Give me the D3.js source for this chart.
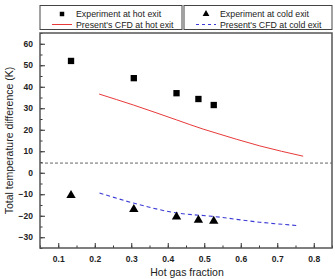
<!DOCTYPE html>
<html>
<head>
<meta charset="utf-8">
<script src="https://cdn.jsdelivr.net/npm/d3@7"></script>
<style>
  body { margin: 0; background: #fff; }
  text { font-family: "Liberation Sans", Arial, sans-serif; }
</style>
</head>
<body>
<svg id="chart-svg" width="335" height="279"></svg>
<script>
// experiment points
const expX = [0.135, 0.307, 0.424, 0.484, 0.526];
const expHot = [52, 44, 37, 34.3, 31.5];
const expCold = [-10.5, -17, -20.5, -22, -22.5];

// CFD curves
const cfdX = [0.212, 0.306, 0.424, 0.497, 0.524, 0.652, 0.771];
const cfdHot = [36.6, 31.5, 24.6, 20.3, 18.9, 12.5, 7.7];
const cfdColdX = [0.213, 0.306, 0.424, 0.524, 0.652, 0.759];
const cfdCold = [-9.4, -14.1, -18.7, -20.3, -23.0, -24.6];

const refLine = 4.5;

const xTicks = [0.1, 0.2, 0.3, 0.4, 0.5, 0.6, 0.7, 0.8];
const yTicks = [-30, -20, -10, 0, 10, 20, 30, 40, 50, 60];

const legendItems = ["Experiment at hot exit", "Present's CFD at hot exit",
                     "Experiment at cold exit", "Present's CFD at cold exit"];

let svg = d3.select('#chart-svg');

let margin = {left: 40, right: 3, top: 33, bottom: 31};
let w = 335 - margin.left - margin.right;
let h = 279 - margin.top - margin.bottom;

let x = d3.scaleLinear().domain([0.05, 0.85]).range([0, w]);
let y = d3.scaleLinear().domain([-35, 65]).range([h, 0]);

let g = svg.append('g').attr('transform', `translate(${margin.left},${margin.top})`);

// minor ticks
let xAxisMinor = d3.axisBottom(x).tickValues(d3.range(0.05, 0.851, 0.05)).tickSize(-2.5).tickFormat('');
let yAxisMinor = d3.axisLeft(y).tickValues(d3.range(-35, 65.1, 5)).tickSize(-2.5).tickFormat('');
g.append('g').attr('transform', `translate(0,${h})`).call(xAxisMinor).call(a => a.select('.domain').remove());
g.append('g').call(yAxisMinor).call(a => a.select('.domain').remove());

// major ticks
let xAxis = d3.axisBottom(x).tickValues(xTicks).tickSize(-5).tickPadding(8).tickFormat(d3.format('.1f'));
let yAxis = d3.axisLeft(y).tickValues(yTicks).tickSize(-5).tickPadding(7);
let xg = g.append('g').attr('transform', `translate(0,${h})`).call(xAxis);
let yg = g.append('g').call(yAxis);
[xg, yg].forEach(a => {
    a.select('.domain').remove();
    a.selectAll('text').style('font-size', '8.5px').style('font-weight', 'bold').attr('fill', '#222');
});
g.selectAll('.tick line').attr('stroke', '#333');

// frame
g.append('rect').attr('width', w).attr('height', h)
    .attr('fill', 'none').attr('stroke', '#555').attr('stroke-width', 1.5);

// reference dashed line
g.append('line').attr('x1', 0).attr('x2', w)
    .attr('y1', y(refLine)).attr('y2', y(refLine))
    .attr('stroke', '#666').attr('stroke-width', 1).attr('stroke-dasharray', '3,2');

let line = d3.line().curve(d3.curveMonotoneX);

g.append('path')
    .attr('d', line(cfdX.map((v, i) => [x(v), y(cfdHot[i])])))
    .attr('fill', 'none').attr('stroke', '#e8393a').attr('stroke-width', 1);

g.append('path')
    .attr('d', line(cfdColdX.map((v, i) => [x(v), y(cfdCold[i])])))
    .attr('fill', 'none').attr('stroke', '#3a3ad6').attr('stroke-width', 1.1)
    .attr('stroke-dasharray', '4,3');

let square = d3.symbol().type(d3.symbolSquare).size(40);
let triangle = d3.symbol().type(d3.symbolTriangle).size(38);

g.selectAll('.hot').data(expX).enter().append('path')
    .attr('transform', (d, i) => `translate(${x(d)},${y(expHot[i])})`)
    .attr('d', square).attr('fill', '#000');

g.selectAll('.cold').data(expX).enter().append('path')
    .attr('transform', (d, i) => `translate(${x(d)},${y(expCold[i])})`)
    .attr('d', triangle).attr('fill', '#000');

// axis titles
svg.append('text').attr('x', margin.left + w / 2 + 1).attr('y', 276)
    .attr('text-anchor', 'middle').style('font-size', '10.5px').attr('fill', '#222')
    .text('Hot gas fraction');
svg.append('text').attr('transform', `translate(13,${margin.top + h / 2}) rotate(-90)`)
    .attr('text-anchor', 'middle').style('font-size', '10.5px').attr('fill', '#222')
    .text('Total temperature difference (K)');

// legend
let boxes = [{x0: 40, x1: 182}, {x0: 184, x1: 332}];
boxes.forEach((b, k) => {
    let lg = svg.append('g');
    lg.append('rect').attr('x', b.x0).attr('y', 5.5).attr('width', b.x1 - b.x0).attr('height', 24)
        .attr('fill', '#fff').attr('stroke', '#444').attr('stroke-width', 1);
    let sx = b.x0 + 22;
    let tx = b.x0 + 36;
    lg.append('path').attr('transform', `translate(${sx},${14})`)
        .attr('d', k === 0 ? d3.symbol().type(d3.symbolSquare).size(20) : d3.symbol().type(d3.symbolTriangle).size(20))
        .attr('fill', '#000');
    lg.append('line').attr('x1', sx - 10).attr('x2', sx + 10).attr('y1', 24.5).attr('y2', 24.5)
        .attr('stroke', k === 0 ? '#e8393a' : '#3a3ad6').attr('stroke-width', 1)
        .attr('stroke-dasharray', k === 0 ? null : '3,3');
    lg.append('text').attr('x', tx).attr('y', 17.2).style('font-size', '8.8px').attr('fill', '#222')
        .text(legendItems[k * 2]);
    lg.append('text').attr('x', tx).attr('y', 27.6).style('font-size', '8.8px').attr('fill', '#222')
        .text(legendItems[k * 2 + 1]);
});
</script>
</body>
</html>
